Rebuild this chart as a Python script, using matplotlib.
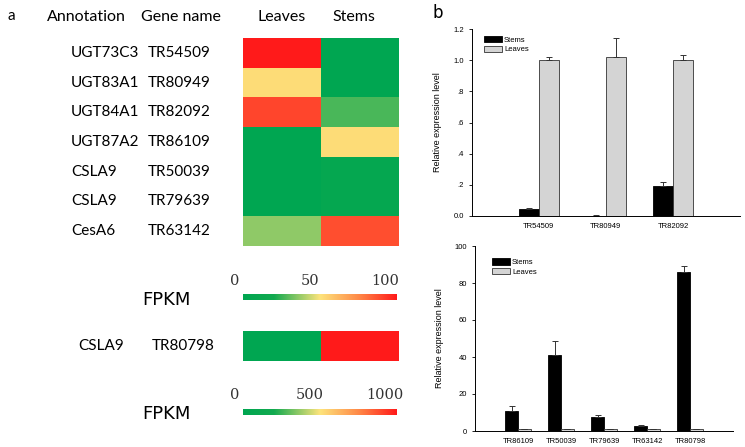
import numpy as np
import matplotlib
matplotlib.use("Agg")
import matplotlib.pyplot as plt
import matplotlib.transforms as mtransforms
from matplotlib.colors import LinearSegmentedColormap

# heatmap data (FPKM)
annotations = ["UGT73C3", "UGT83A1", "UGT84A1", "UGT87A2", "CSLA9", "CSLA9", "CesA6"]
genes = ["TR54509", "TR80949", "TR82092", "TR86109", "TR50039", "TR79639", "TR63142"]
leaves_fpkm = [100, 52, 90, 0, 0, 0, 36]
stems_fpkm = [0, 0, 27, 52, 6, 6, 88]
extra_annotation = "CSLA9"
extra_gene = "TR80798"
extra_leaves = [0]
extra_stems = [1000]
cbar1_ticks = [0, 50, 100]
cbar2_ticks = [0, 500, 1000]

# qPCR data
top_genes = ["TR54509", "TR80949", "TR82092"]
top_stems = [0.047, 0.003, 0.195]
top_stems_err = [0.003, 0.002, 0.025]
top_leaves = [1.0, 1.018, 1.0]
top_leaves_err = [0.02, 0.122, 0.033]
top_yticks = [0.0, 0.2, 0.4, 0.6, 0.8, 1.0, 1.2]
top_yticklabels = ["0.0", ".2", ".4", ".6", ".8", "1.0", "1.2"]

bot_genes = ["TR86109", "TR50039", "TR79639", "TR63142", "TR80798"]
bot_stems = [10.8, 40.9, 7.6, 2.5, 85.8]
bot_stems_err = [2.5, 7.7, 1.0, 0.6, 3.6]
bot_leaves = [1.0, 1.0, 1.0, 1.0, 1.0]
bot_leaves_err = [0.0, 0.0, 0.0, 0.0, 0.0]
bot_yticks = [0, 20, 40, 60, 80, 100]

cmap = LinearSegmentedColormap.from_list(
    "fpkm", [(0.0, "#00a651"), (0.2, "#12aa4f"), (0.5, "#fde47c"),
             (0.75, "#ff8a48"), (1.0, "#ff1a1a")])

fig = plt.figure(figsize=(7.45, 4.47), dpi=100)
W, H = 745.0, 447.0

def fax(x0, y0, x1, y1):
    # axes from pixel box (top-left origin)
    return fig.add_axes([x0 / W, 1 - y1 / H, (x1 - x0) / W, (y1 - y0) / H])

sans = "Lato"
serif = "DejaVu Serif"

# ---- panel a ----
fig.text(8 / W, 1 - 16 / H, "a", fontsize=11, family=sans, va="center")
for x, s in [(86, "Annotation"), (181, "Gene name"), (282, "Leaves"), (354, "Stems")]:
    fig.text(x / W, 1 - 17 / H, s, fontsize=11.5, family=sans, ha="center", va="center")

def heat(ax, left, right, vmax, ann, gn, x_ann, x_gene):
    data = np.column_stack([left, right]).astype(float)
    ax.imshow(data, cmap=cmap, vmin=0, vmax=vmax, aspect="auto", interpolation="nearest")
    ax.set_axis_off()
    tr = mtransforms.blended_transform_factory(fig.transFigure, ax.transData)
    for i, (a, g) in enumerate(zip(ann, gn)):
        ax.text(x_ann / W, i, a, transform=tr, fontsize=11, family=sans, va="center")
        ax.text(x_gene / W, i, g, transform=tr, fontsize=11, family=sans, va="center")

ax_h1 = fax(243, 38, 399, 246)
heat(ax_h1, leaves_fpkm, stems_fpkm, 100, annotations, genes, 71, 148)

ax_h2 = fax(243, 331, 399, 361)
heat(ax_h2, extra_leaves, extra_stems, 1000, [extra_annotation], [extra_gene], 78, 152)

def cbar(y0, ticks, fy, ly):
    ax = fax(243, y0, 397, y0 + 6)
    grad = np.linspace(0, ticks[-1], 256).reshape(1, -1)
    ax.imshow(grad, cmap=cmap, vmin=0, vmax=ticks[-1], aspect="auto",
              extent=[0, ticks[-1], 0, 1])
    ax.set_axis_off()
    for t, xp in zip(ticks, [235, 310, 385]):
        fig.text(xp / W, 1 - ly / H, str(t), fontsize=10.5, family=serif,
                 ha="center", va="center", color="#333333")
    fig.text(166 / W, 1 - fy / H, "FPKM", fontsize=13, family="DejaVu Sans",
             ha="center", va="center")

cbar(294, cbar1_ticks, 300, 281)
cbar(409, cbar2_ticks, 414, 395)

# ---- panel b ----
fig.text(433 / W, 1 - 13 / H, "b", fontsize=12, family="DejaVu Sans", va="center")

bar_font = "Liberation Sans"

def bars(ax, names, stems, stems_err, leaves, leaves_err, yticks, ylabels, ymax, leg_xy):
    x = np.arange(len(names))
    w = 0.3
    ekw = dict(elinewidth=0.7, capthick=0.7, ecolor="#333333")
    ax.bar(x - w / 2, stems, w, yerr=[np.zeros(len(x)), stems_err], color="black",
           edgecolor="black", linewidth=0.6, capsize=2.5, error_kw=ekw, label="Stems")
    ax.bar(x + w / 2, leaves, w, yerr=[np.zeros(len(x)), leaves_err], color="#d4d4d4",
           edgecolor="#333333", linewidth=0.6, capsize=2.5, error_kw=ekw, label="Leaves")
    ax.set_xlim(-1, len(names))
    ax.set_ylim(0, ymax)
    ax.set_xticks(x)
    ax.set_xticklabels(names, fontsize=5.5, family=bar_font)
    ax.tick_params(axis="x", length=0, pad=5)
    ax.set_yticks(yticks)
    ax.set_yticklabels(ylabels, fontsize=5.5, family=bar_font)
    ax.tick_params(axis="y", length=2.5, width=0.6, pad=3)
    for s in ["top", "right"]:
        ax.spines[s].set_visible(False)
    for s in ["left", "bottom"]:
        ax.spines[s].set_linewidth(0.7)
    ax.set_ylabel("Relative expression level", fontsize=6.5, family=bar_font, labelpad=8)
    ax.legend(loc="upper left", bbox_to_anchor=leg_xy, frameon=False,
              prop={"family": bar_font, "size": 5.5}, handlelength=2.3,
              handleheight=0.9, labelspacing=0.25, borderaxespad=0, handletextpad=0.3)

ax_b1 = fax(471.7, 29, 740, 216)
bars(ax_b1, top_genes, top_stems, top_stems_err, top_leaves, top_leaves_err,
     top_yticks, top_yticklabels, 1.2, (0.035, 0.98))

ax_b2 = fax(475, 246, 733, 431)
bars(ax_b2, bot_genes, bot_stems, bot_stems_err, bot_leaves, bot_leaves_err,
     bot_yticks, [str(v) for v in bot_yticks], 100, (0.055, 0.95))

fig.savefig("out.png", dpi=100)
